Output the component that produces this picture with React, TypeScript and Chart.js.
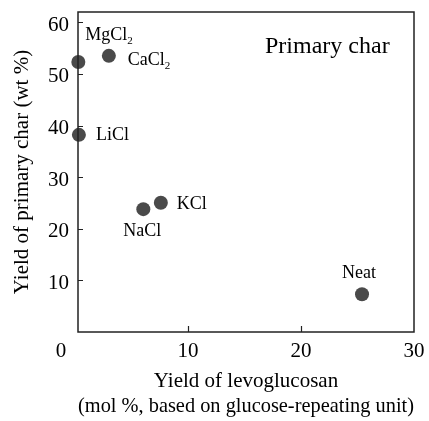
import React, { useEffect, useRef } from 'react';
import { Chart, registerables } from 'chart.js';

Chart.register(...registerables);

// ---- data ----
const salts = ['MgCl2', 'CaCl2', 'LiCl', 'NaCl', 'KCl', 'Neat'];
const labelMain = ['MgCl', 'CaCl', 'LiCl', 'NaCl', 'KCl', 'Neat'];
const labelSub = ['2', '2', '', '', '', ''];
const levoglucosanYield = [0.3, 3.0, 0.35, 6.05, 7.6, 25.4];
const primaryCharYield = [52.3, 53.5, 38.2, 23.8, 25.05, 7.3];
const xTickValues = [0, 10, 20, 30];
const yTickValues = [10, 20, 30, 40, 50, 60];
const xTitle = ['Yield of levoglucosan', '(mol %, based on glucose-repeating unit)'];
const yTitle = 'Yield of primary char (wt %)';
const panelTitle = 'Primary char';

// ---- styles ----
const FONT = "'Liberation Serif', 'Times New Roman', serif";
const POINT_COLOR = '#4a4a4a';
// label placement relative to each point (px): dx, dy, align
const labelPlacement = [
  { dx: 7, dy: -27, align: 'left' },
  { dx: 19, dy: 4, align: 'left' },
  { dx: 17, dy: 0, align: 'left' },
  { dx: -1, dy: 22, align: 'center' },
  { dx: 16, dy: 2, align: 'left' },
  { dx: -3, dy: -21, align: 'center' },
];

const decorPlugin = {
  id: 'decor',
  afterDraw(chart: any) {
    const { ctx, chartArea } = chart;
    const xs = chart.scales.x;
    const ys = chart.scales.y;
    ctx.save();
    // frame
    ctx.strokeStyle = '#222';
    ctx.lineWidth = 1.5;
    ctx.strokeRect(chartArea.left, chartArea.top, chartArea.right - chartArea.left, chartArea.bottom - chartArea.top);
    // inside ticks
    ctx.lineWidth = 1.2;
    ctx.beginPath();
    yTickValues.forEach((v) => {
      const py = Math.round(ys.getPixelForValue(v)) + 0.5;
      ctx.moveTo(chartArea.left, py);
      ctx.lineTo(chartArea.left + 5, py);
    });
    xTickValues.forEach((v) => {
      const px = Math.round(xs.getPixelForValue(v)) + 0.5;
      if (px <= chartArea.left + 2 || px >= chartArea.right - 2) return;
      ctx.moveTo(px, chartArea.bottom);
      ctx.lineTo(px, chartArea.bottom - 6);
    });
    ctx.stroke();
    // x tick labels
    ctx.fillStyle = '#000';
    ctx.font = `21px ${FONT}`;
    ctx.textAlign = 'center';
    ctx.textBaseline = 'middle';
    xTickValues.forEach((v) => {
      let px = xs.getPixelForValue(v);
      if (v === 0) px -= 14;
      ctx.fillText(String(v), px, chartArea.bottom + 19);
    });
    // point labels
    salts.forEach((_, i) => {
      const px = xs.getPixelForValue(levoglucosanYield[i]);
      const py = ys.getPixelForValue(primaryCharYield[i]);
      const p = labelPlacement[i];
      ctx.font = `18px ${FONT}`;
      const mainW = ctx.measureText(labelMain[i]).width;
      ctx.font = `11px ${FONT}`;
      const subW = labelSub[i] ? ctx.measureText(labelSub[i]).width : 0;
      const total = mainW + subW;
      let x0 = px + p.dx;
      if (p.align === 'center') x0 -= total / 2;
      const y0 = py + p.dy;
      ctx.textAlign = 'left';
      ctx.textBaseline = 'middle';
      ctx.font = `18px ${FONT}`;
      ctx.fillText(labelMain[i], x0, y0);
      if (labelSub[i]) {
        ctx.font = `11px ${FONT}`;
        ctx.fillText(labelSub[i], x0 + mainW, y0 + 6);
      }
    });
    // panel title
    ctx.font = `24px ${FONT}`;
    ctx.textAlign = 'left';
    ctx.textBaseline = 'middle';
    ctx.fillText(panelTitle, 265, 47);
    ctx.restore();
  },
};

export default function App() {
  const ref = useRef<HTMLCanvasElement | null>(null);
  useEffect(() => {
    if (!ref.current) return;
    const chart = new Chart(ref.current, {
      type: 'scatter',
      data: {
        datasets: [
          {
            data: levoglucosanYield.map((x, i) => ({ x, y: primaryCharYield[i] })),
            backgroundColor: POINT_COLOR,
            borderColor: POINT_COLOR,
            pointRadius: 7,
            pointHoverRadius: 7,
            borderWidth: 0,
            clip: false,
          } as any,
        ],
      },
      options: {
        animation: false,
        responsive: false,
        layout: { padding: { left: 8, top: 12, right: 15, bottom: 0 } },
        plugins: { legend: { display: false }, tooltip: { enabled: false } },
        scales: {
          x: {
            type: 'linear',
            min: 0.27,
            max: 30,
            grid: { display: false, drawTicks: false },
            border: { display: false },
            ticks: { display: false },
            title: {
              display: true,
              text: xTitle,
              color: '#000',
              font: { family: FONT, size: 21, lineHeight: 25 / 21 },
              padding: { top: 0, bottom: 2 },
            },
            afterFit: (s: any) => {
              s.height = 89;
              s.paddingLeft = 0;
              s.paddingRight = 0;
            },
          },
          y: {
            type: 'linear',
            min: 0,
            max: 62,
            grid: { display: false, drawTicks: false },
            border: { display: false },
            afterBuildTicks: (s: any) => {
              s.ticks = yTickValues.map((v) => ({ value: v }));
            },
            ticks: {
              padding: 9,
              labelOffset: 3,
              color: '#000',
              autoSkip: false,
              font: { family: FONT, size: 21 },
              callback: (v: any) => String(v),
            },
            title: {
              display: true,
              text: yTitle,
              color: '#000',
              font: { family: FONT, size: 21 },
              padding: { top: 2, bottom: 0 },
            },
            afterFit: (s: any) => {
              s.width = 70;
              s.paddingTop = 0;
              s.paddingBottom = 0;
            },
          },
        },
      },
      plugins: [decorPlugin],
    });
    return () => chart.destroy();
  }, []);
  return (
    <div style={{ position: 'absolute', left: 0, top: 0, width: 429, height: 421 }}>
      <canvas ref={ref} width={429} height={421} />
    </div>
  );
}
